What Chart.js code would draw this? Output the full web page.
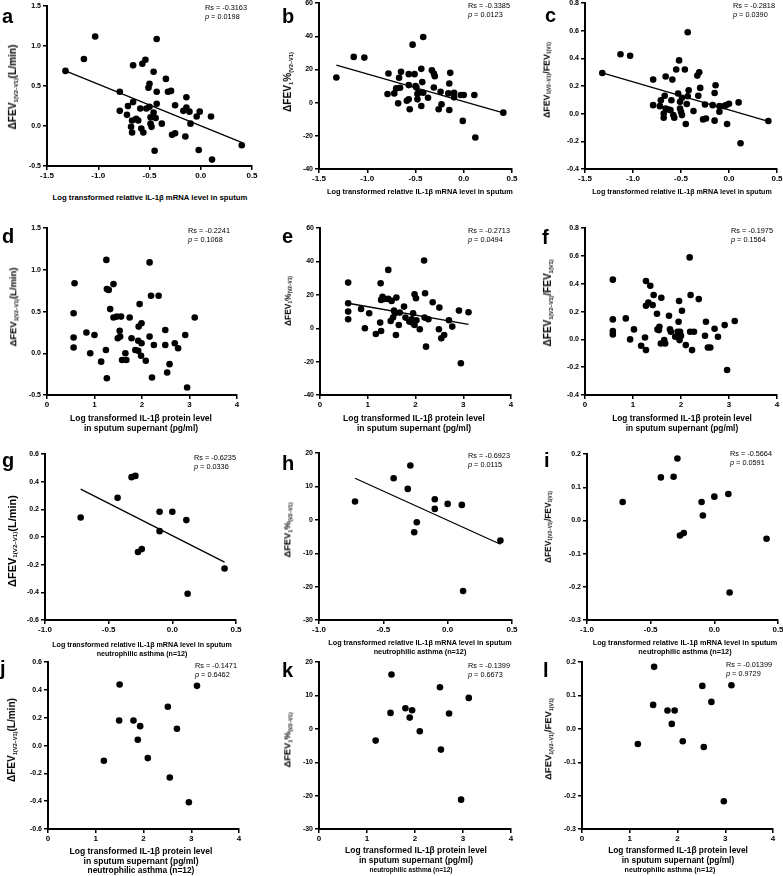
<!DOCTYPE html>
<html>
<head>
<meta charset="utf-8">
<script src="https://cdn.jsdelivr.net/npm/chart.js@4.4.1/dist/chart.umd.min.js"></script>
<style>
html, body { margin: 0; padding: 0; background: #fff; }
#page { position: relative; width: 783px; height: 876px; overflow: hidden; font-family: "Liberation Sans", Arial, sans-serif; color: #000; }
.cv { position: absolute; }
.t { position: absolute; white-space: nowrap; line-height: 1; }
.t sub { font-size: 56%; vertical-align: -0.3em; line-height: 0; }
</style>
</head>
<body>
<div id="page"></div>
<script>
// tick labels
const xMrna = [-1.5, -1.0, -0.5, 0.0, 0.5];
const xMrnaNeu = [-1.0, -0.5, 0.0, 0.5];
const xProt = [0, 1, 2, 3, 4];
const yL = [-0.5, 0.0, 0.5, 1.0, 1.5];
const yPct = [-40, -20, 0, 20, 40, 60];
const yRatio = [-0.4, -0.2, 0.0, 0.2, 0.4, 0.6, 0.8];
const yLNeu = [-0.6, -0.4, -0.2, 0.0, 0.2, 0.4, 0.6];
const yPctNeu = [-30, -20, -10, 0, 10, 20];
const yRatioNeu = [-0.3, -0.2, -0.1, 0.0, 0.1, 0.2];

// a: mRNA vs dFEV1 (L/min)
const aX = [-1.32,-1.14,-1.03,-0.79,-0.79,-0.72,-0.71,-0.68,-0.67,-0.66,-0.66,-0.67,-0.63,-0.61,-0.59,-0.58,-0.57,-0.56,-0.54,-0.53,-0.51,-0.50,-0.50,-0.49,-0.49,-0.48,-0.46,-0.46,-0.45,-0.44,-0.43,-0.43,-0.43,-0.38,-0.34,-0.32,-0.29,-0.28,-0.25,-0.25,-0.15,-0.14,-0.14,-0.17,-0.11,-0.10,-0.04,-0.02,-0.01,0.10,0.11,0.40];
const aY = [0.69,0.84,1.12,0.43,0.19,0.14,0.25,-0.01,-0.08,0.30,0.76,0.07,0.09,0.07,0.22,-0.03,0.78,-0.08,0.83,0.22,0.48,0.53,0.24,0.11,0.03,-0.01,0.17,0.68,-0.31,0.10,0.28,1.09,0.43,0.03,0.59,0.43,0.44,-0.11,0.26,-0.09,-0.13,0.23,0.36,0.19,0.18,0.03,0.12,-0.30,0.18,0.12,-0.42,-0.24];
const aFitX = [-1.32, 0.41], aFitY = [0.69, -0.21];

// b: mRNA vs dFEV1 %
const bX = [-1.32,-1.14,-1.03,-0.79,-0.78,-0.72,-0.70,-0.68,-0.67,-0.66,-0.65,-0.59,-0.57,-0.57,-0.56,-0.57,-0.53,-0.51,-0.50,-0.49,-0.48,-0.48,-0.47,-0.44,-0.44,-0.43,-0.42,-0.42,-0.37,-0.33,-0.31,-0.30,-0.31,-0.26,-0.24,-0.23,-0.16,-0.15,-0.14,-0.15,-0.10,-0.10,-0.03,0.00,-0.01,0.11,0.12,0.41];
const bY = [15.2,27.6,27.2,5.2,17.6,5.6,8.6,-0.4,15,9,18.6,1.2,10.6,2,-4,17.2,35,17.2,10,9.2,2,5.2,6,20.4,-2,12.4,6,39.6,3,19.6,17.6,16,9.2,-4,6.6,-1,5.6,11.6,18,-4.4,6,3.2,4.6,4.6,-11,4.6,-21,-6];
const bFitX = [-1.32, 0.41], bFitY = [22.6, -6.2];

// c: mRNA vs dFEV1 / FEV1
const cX = [-1.32,-1.13,-1.03,-0.79,-0.79,-0.72,-0.71,-0.68,-0.68,-0.67,-0.66,-0.66,-0.63,-0.61,-0.60,-0.59,-0.58,-0.57,-0.55,-0.53,-0.52,-0.51,-0.51,-0.50,-0.49,-0.49,-0.46,-0.45,-0.44,-0.43,-0.42,-0.43,-0.37,-0.33,-0.31,-0.32,-0.30,-0.25,-0.27,-0.24,-0.17,-0.15,-0.14,-0.15,-0.10,-0.10,-0.05,-0.02,-0.03,0.00,0.10,0.12,0.41];
const cY = [0.295,0.43,0.42,0.247,0.062,0.055,0.098,0.002,-0.029,0.13,0.27,0.038,0.031,0.026,0.098,0.247,-0.01,-0.029,0.32,0.146,0.386,0.086,0.038,0.014,-0.01,0.115,0.32,-0.074,0.07,0.59,0.17,0.127,0.019,0.276,0.30,0.13,0.187,0.067,-0.041,-0.034,0.062,0.15,0.206,-0.05,0.014,0.055,0.055,-0.074,0.062,0.072,0.082,-0.214,-0.053];
const cFitX = [-1.32, 0.41], cFitY = [0.295, -0.055];

// d: protein vs dFEV1 (L/min)
const dX = [0.58,0.56,0.56,0.56,0.83,0.91,1.00,1.14,1.24,1.25,1.26,1.26,1.30,1.33,1.40,1.40,1.47,1.49,1.53,1.56,1.54,1.58,1.65,1.67,1.74,1.78,1.86,1.92,1.92,1.93,1.95,1.98,1.99,1.99,2.08,2.16,2.16,2.19,2.21,2.25,2.35,2.49,2.49,2.53,2.58,2.69,2.76,2.91,2.95,3.11];
const dY = [0.84,0.48,0.19,0.07,0.25,0.0,0.22,-0.10,0.04,1.12,0.77,-0.30,0.76,0.53,0.43,0.83,0.44,0.18,0.27,0.44,0.20,-0.08,0.0,-0.08,0.43,0.18,0.04,0.03,0.15,0.32,0.59,-0.03,0.36,0.12,-0.09,1.09,0.20,0.69,-0.29,0.10,0.69,0.28,0.10,-0.23,-0.13,0.12,0.06,0.22,-0.41,0.43];

// e: protein vs dFEV1 %
const eX = [0.59,0.59,0.59,0.59,0.86,0.94,1.03,1.17,1.26,1.27,1.28,1.28,1.31,1.35,1.43,1.43,1.48,1.50,1.53,1.55,1.57,1.59,1.60,1.65,1.67,1.76,1.79,1.87,1.92,1.93,1.95,1.98,1.98,2.01,2.02,2.09,2.18,2.19,2.20,2.22,2.27,2.36,2.50,2.49,2.54,2.60,2.70,2.77,2.91,2.95,3.11];
const eY = [27.4,15,10,5.4,11.6,0,9,-3.4,3.4,27,-1.6,17,18.8,17.6,35,17.6,4.4,16.4,6.4,10.6,9,-4,18.4,2,9.4,13,6.4,4,5.4,3.4,9,20.4,2,18,4.8,-0.6,40.6,6.4,21,-11,5.4,15.6,12.4,-0.6,-6,-4,4.8,1,10.6,-21,9.6];
const eFitX = [0.59, 3.11], eFitY = [15, 2.4];

// f: protein vs dFEV1 / FEV1
const fX = [0.58,0.58,0.58,0.58,0.85,0.94,1.02,1.17,1.25,1.27,1.27,1.27,1.32,1.36,1.43,1.41,1.50,1.51,1.54,1.55,1.59,1.58,1.65,1.67,1.75,1.77,1.79,1.88,1.93,1.95,1.96,1.97,1.98,2.00,2.02,2.10,2.18,2.19,2.20,2.23,2.27,2.37,2.52,2.50,2.56,2.61,2.70,2.77,2.91,2.96,3.12];
const fY = [0.43,0.144,0.06,0.036,0.151,0.0,0.072,-0.046,0.014,0.42,-0.077,0.242,0.266,0.386,0.319,0.247,0.185,0.072,0.067,0.091,0.30,-0.029,-0.005,-0.029,0.17,0.072,0.055,0.019,0.055,0.127,0.276,-0.005,0.055,0.026,0.206,-0.041,0.59,0.055,0.319,-0.077,0.055,0.29,0.127,0.026,-0.058,-0.058,0.077,0.019,0.103,-0.22,0.132];

// g-i: neutrophilic asthma, mRNA
const gX = [-0.72,-0.43,-0.32,-0.29,-0.27,-0.24,-0.10,-0.10,0.00,0.11,0.12,0.41];
const gY = [0.142,0.284,0.434,0.443,-0.108,-0.087,0.183,0.043,0.183,0.123,-0.41,-0.227];
const gFitX = [-0.72, 0.41], gFitY = [0.347, -0.181];
const hX = [-0.72,-0.42,-0.31,-0.29,-0.26,-0.24,-0.10,-0.10,0.00,0.11,0.12,0.41];
const hY = [5.5,12.5,9.3,16.3,-3.7,-0.7,6.2,3.3,4.8,4.5,-21.3,-6.2];
const hFitX = [-0.72, 0.41], hFitY = [12.5, -7.3];
const iX = [-0.72,-0.42,-0.32,-0.29,-0.27,-0.24,-0.10,-0.09,0.00,0.11,0.12,0.41];
const iY = [0.056,0.13,0.132,0.187,-0.045,-0.038,0.056,0.015,0.072,0.080,-0.217,-0.055];

// j-l: neutrophilic asthma, protein
const jX = [1.17,1.50,1.49,1.79,1.88,1.93,2.09,2.51,2.55,2.70,2.95,3.12];
const jY = [-0.109,0.44,0.181,0.181,0.042,0.14,-0.09,0.279,-0.229,0.121,-0.408,0.43];
const kX = [1.18,1.49,1.51,1.80,1.89,1.94,2.10,2.52,2.54,2.71,2.96,3.12];
const kY = [-3.5,4.8,16.3,6.2,3.4,5.6,-0.7,12.5,-6.2,4.6,-21.2,9.3];
const lX = [1.17,1.49,1.51,1.79,1.88,1.94,2.11,2.52,2.55,2.71,2.97,3.13];
const lY = [-0.045,0.072,0.186,0.055,0.015,0.055,-0.037,0.129,-0.054,0.081,-0.217,0.131];

const MRNA = 'Log transformed relative IL-1β mRNA level in sputum';
const PROT1 = 'Log transformed IL-1β protein level';
const PROT2 = 'in sputum supernant (pg/ml)';
const NEU = 'neutrophilic asthma (n=12)';
const YT = {
    L: 'ΔFEV<sub>1(V2–V1)</sub>(L/min)',
    P: 'ΔFEV<sub>1</sub>%<sub>(V2–V1)</sub>',
    R: 'ΔFEV<sub>1(V2–V1)</sub>/FEV<sub>1(V1)</sub>'
};

const panels = [
    {id: 'a', box: [47, 252, 6, 166], xt: xMrna, yt: yL, xd: 1, yd: 1, xs: aX, ys: aY, fit: [aFitX, aFitY], kind: 'L', rs: '-0.3163', p: '0.0198',
     letter: [2, 23], rsPos: [205, 10], ytPos: [13, 87, 85], xl: {cx: 150, base: 201, w: 195, lines: [MRNA]}},
    {id: 'b', box: [319, 512, 3, 169], xt: xMrna, yt: yPct, xd: 1, yd: 0, xs: bX, ys: bY, fit: [bFitX, bFitY], kind: 'P', rs: '-0.3385', p: '0.0123',
     letter: [282, 23], rsPos: [468, 8], ytPos: [288, 82, 60], xl: {cx: 420, base: 194, w: 186, lines: [MRNA]}},
    {id: 'c', box: [585, 777, 3, 169], xt: xMrna, yt: yRatio, xd: 1, yd: 1, xs: cX, ys: cY, fit: [cFitX, cFitY], kind: 'R', rs: '-0.2818', p: '0.0390',
     letter: [545, 22], rsPos: [733, 8], ytPos: [547, 80, 76], xl: {cx: 682, base: 195, w: 180, lines: [MRNA]}},
    {id: 'd', box: [47, 237, 228, 395], xt: xProt, yt: yL, xd: 0, yd: 1, xs: dX, ys: dY, kind: 'L', rs: '-0.2241', p: '0.1068',
     letter: [2, 243], rsPos: [188, 233], ytPos: [12.5, 307, 79], xl: {cx: 141, base: 421, w: 142, lines: [PROT1, PROT2]}},
    {id: 'e', box: [320, 511, 228, 395], xt: xProt, yt: yPct, xd: 0, yd: 0, xs: eX, ys: eY, fit: [eFitX, eFitY], kind: 'P', rs: '-0.2713', p: '0.0494',
     letter: [282, 243], rsPos: [468, 233], ytPos: [287.5, 301, 50], xl: {cx: 414, base: 421, w: 142, lines: [PROT1, PROT2]}},
    {id: 'f', box: [585, 777, 228, 395], xt: xProt, yt: yRatio, xd: 0, yd: 1, xs: fX, ys: fY, kind: 'R', rs: '-0.1975', p: '0.1564',
     letter: [542, 244], rsPos: [731, 233], ytPos: [547.5, 303, 87], xl: {cx: 682, base: 421, w: 140, lines: [PROT1, PROT2]}},
    {id: 'g', box: [45, 236, 454, 620], xt: xMrnaNeu, yt: yLNeu, xd: 1, yd: 1, xs: gX, ys: gY, fit: [gFitX, gFitY], kind: 'L', rs: '-0.6235', p: '0.0336',
     letter: [2, 467], rsPos: [194, 460], ytPos: [12, 541, 92], xl: {cx: 142, base: 648, w: 180, lines: [MRNA, NEU]}},
    {id: 'h', box: [319, 512, 453, 620], xt: xMrnaNeu, yt: yPctNeu, xd: 1, yd: 0, xs: hX, ys: hY, fit: [hFitX, hFitY], kind: 'P', rs: '-0.6923', p: '0.0115',
     letter: [282, 470], rsPos: [468, 458], ytPos: [287.5, 530, 55], xl: {cx: 420, base: 645, w: 184, lines: [MRNA, NEU]}},
    {id: 'i', box: [587, 778, 454, 620], xt: xMrnaNeu, yt: yRatioNeu, xd: 1, yd: 1, xs: iX, ys: iY, kind: 'R', rs: '-0.5664', p: '0.0591',
     letter: [544, 467], rsPos: [730, 456], ytPos: [547.5, 527, 72], xl: {cx: 685, base: 645, w: 185, lines: [MRNA, NEU]}},
    {id: 'j', box: [48, 239, 662, 829], xt: xProt, yt: yLNeu, xd: 0, yd: 1, xs: jX, ys: jY, kind: 'L', rs: '-0.1471', p: '0.6462',
     letter: [0, 675], rsPos: [195, 668], ytPos: [12, 740, 84], xl: {cx: 141, base: 854, w: 143, lines: [PROT1, PROT2], neu: [141, 873, 107]}},
    {id: 'k', box: [319, 511, 662, 829], xt: xProt, yt: yPctNeu, xd: 0, yd: 0, xs: kX, ys: kY, kind: 'P', rs: '-0.1399', p: '0.6673',
     letter: [282, 677], rsPos: [468, 668], ytPos: [287.5, 740, 55], xl: {cx: 416, base: 853, w: 142, lines: [PROT1, PROT2], neu: [411, 873, 83]}},
    {id: 'l', box: [582, 773, 662, 829], xt: xProt, yt: yRatioNeu, xd: 0, yd: 1, xs: lX, ys: lY, kind: 'R', rs: '-0.01399', p: '0.9729',
     letter: [543, 677], rsPos: [726, 667], ytPos: [547.5, 739, 82], xl: {cx: 678, base: 853, w: 140, lines: [PROT1, PROT2], neu: [670, 873, 91]}}
];

const page = document.getElementById('page');
const FONT = '"Liberation Sans", Arial, sans-serif';

function axis(ticks, dec, isY) {
    return {
        type: 'linear',
        min: ticks[0],
        max: ticks[ticks.length - 1],
        afterBuildTicks: s => { s.ticks = ticks.map(v => ({value: v})); },
        afterFit: s => { if (isY) s.width = 40; else s.height = 20; },
        ticks: {
            autoSkip: false, maxRotation: 0, color: '#000', padding: isY ? 2 : 1,
            font: {family: FONT, size: isY ? 7 : 8, weight: 'bold'},
            callback: v => Number(v).toFixed(dec)
        },
        grid: {drawOnChartArea: false, drawTicks: true, tickLength: 4, color: '#000', lineWidth: 1.5},
        border: {display: true, color: '#000', width: 2}
    };
}

function makeChart(p) {
    const [L, R, T, B] = p.box;
    const padL = 40, padT = 6, padR = 12, xh = 20;
    const cv = document.createElement('canvas');
    cv.className = 'cv';
    cv.width = R - L + padL + padR;
    cv.height = B - T + padT + xh;
    cv.style.left = (L - padL) + 'px';
    cv.style.top = (T - padT) + 'px';
    page.appendChild(cv);

    const datasets = [{
        data: p.xs.map((x, i) => ({x: x, y: p.ys[i]})),
        pointRadius: 3.3, pointHoverRadius: 3.3,
        backgroundColor: '#000', borderWidth: 0, clip: false
    }];
    if (p.fit) {
        datasets.push({
            data: p.fit[0].map((x, i) => ({x: x, y: p.fit[1][i]})),
            showLine: true, borderColor: '#000', borderWidth: 1.3,
            pointRadius: 0, clip: false
        });
    }
    new Chart(cv, {
        type: 'scatter',
        data: {datasets: datasets},
        options: {
            responsive: false, animation: false, devicePixelRatio: 1,
            layout: {padding: {top: padT, right: padR, left: 0, bottom: 0}},
            plugins: {legend: {display: false}, tooltip: {enabled: false}},
            scales: {x: axis(p.xt, p.xd, false), y: axis(p.yt, p.yd, true)}
        }
    });
}

// text helpers
function put(x, base, html, size, bold, fitW, center) {
    const d = document.createElement('div');
    d.className = 't';
    d.innerHTML = html;
    d.style.fontSize = size + 'px';
    d.style.fontWeight = bold ? 'bold' : 'normal';
    page.appendChild(d);
    if (fitW) {
        size = size * fitW / d.getBoundingClientRect().width;
        d.style.fontSize = size + 'px';
    }
    d.style.top = (base - 0.847 * size) + 'px';
    const w = d.getBoundingClientRect().width;
    d.style.left = (center ? x - w / 2 : x) + 'px';
    return size;
}

function vtitle(cx, cy, html, len) {
    const d = document.createElement('div');
    d.className = 't';
    d.innerHTML = html;
    d.style.fontWeight = 'bold';
    d.style.fontSize = '10px';
    page.appendChild(d);
    const size = 10 * len / d.getBoundingClientRect().width;
    d.style.fontSize = size + 'px';
    d.style.left = cx + 'px';
    d.style.top = cy + 'px';
    d.style.transform = 'translate(-50%, -50%) rotate(-90deg)';
}

panels.forEach(p => {
    makeChart(p);
    put(p.letter[0], p.letter[1], p.id, 20, true);
    put(p.rsPos[0], p.rsPos[1], 'Rs = ' + p.rs, 7.3, false);
    put(p.rsPos[0], p.rsPos[1] + 9, '<i>p</i> = ' + p.p, 7.3, false);
    vtitle(p.ytPos[0], p.ytPos[1], YT[p.kind], p.ytPos[2]);
    const sz = put(p.xl.cx, p.xl.base, p.xl.lines[0], 7, true, p.xl.w, true);
    const gap = p.xl.lines.length > 1 && p.xl.lines[1] === NEU ? 9 : 10.5;
    if (p.xl.lines[1]) put(p.xl.cx, p.xl.base + gap, p.xl.lines[1], sz, true, 0, true);
    if (p.xl.neu) put(p.xl.neu[0], p.xl.neu[1], NEU, 6, true, p.xl.neu[2], true);
});
</script>
</body>
</html>
